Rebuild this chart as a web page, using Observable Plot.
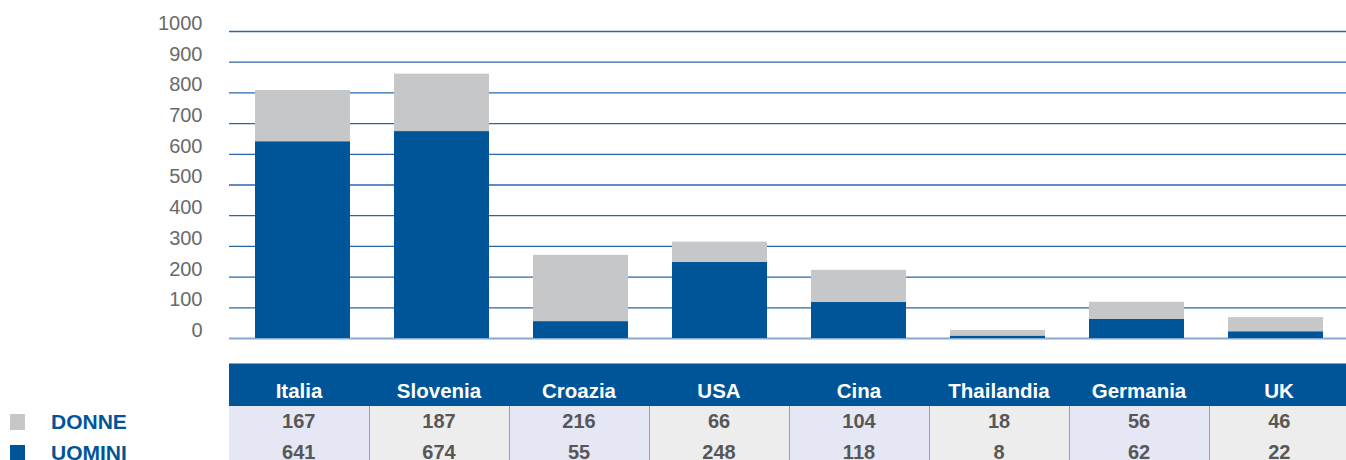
<!DOCTYPE html>
<html>
<head>
<meta charset="utf-8">
<script src="https://cdn.jsdelivr.net/npm/d3@7"></script>
<script src="https://cdn.jsdelivr.net/npm/@observablehq/plot@0.6"></script>
<style>
  html, body { margin: 0; padding: 0; background: #fff; }
  body { width: 1346px; height: 460px; overflow: hidden; position: relative; font-family: "Liberation Sans", Arial, Helvetica, sans-serif; }
  #chart { position: absolute; left: 0; top: 0; }
  #table { position: absolute; left: 229px; top: 363px; border-collapse: collapse; table-layout: fixed; width: 1120px; }
  #table th { background: #005598; color: #fff; font-weight: bold; font-size: 20.5px; height: 42px; padding: 0; vertical-align: bottom; padding-bottom: 3px; box-sizing: border-box; border-top: 1px solid #7fa6cf; }
  #table td { font-weight: bold; font-size: 20px; color: #575757; text-align: center; height: 31px; padding: 0; }
  #table td + td { border-left: 1.5px solid #7fa6cf; }
  .c0 { background: #e6e7f4; }
  .c1 { background: #ededed; }
  #legend { position: absolute; left: 10px; top: 406px; }
  .lg { display: flex; align-items: center; height: 31px; }
  .sw { width: 15px; height: 16px; margin-right: 26px; }
  .lt { color: #005598; font-weight: bold; font-size: 21px; }
</style>
</head>
<body>
<div id="chart"></div>
<table id="table"></table>
<div id="legend"></div>
<script>
const countries = ["Italia", "Slovenia", "Croazia", "USA", "Cina", "Thailandia", "Germania", "UK"];
const donne = [167, 187, 216, 66, 104, 18, 56, 46];
const uomini = [641, 674, 55, 248, 118, 8, 62, 22];
const series = ["UOMINI", "DONNE"];
const seriesColors = ["#005598", "#c6c7c9"];
const yTicks = [0, 100, 200, 300, 400, 500, 600, 700, 800, 900, 1000];

const data = [];
countries.forEach((c, i) => {
  data.push({country: c, serie: "UOMINI", value: uomini[i]});
  data.push({country: c, serie: "DONNE", value: donne[i]});
});

const plot = Plot.plot({
  width: 1346,
  height: 350,
  marginLeft: 229,
  marginRight: -3,
  marginTop: 31,
  marginBottom: 12,
  style: {fontFamily: "'Liberation Sans', Arial, sans-serif", background: "transparent"},
  x: {domain: countries, paddingInner: 0.32, paddingOuter: 0.17, axis: null},
  y: {domain: [0, 1000], axis: null},
  color: {domain: series, range: seriesColors},
  marks: [
    Plot.ruleY(yTicks.filter(d => d > 0), {stroke: "#2a66a6", strokeWidth: 1.3}),
    Plot.ruleY([0], {stroke: "#86a9cf", strokeWidth: 2}),
    Plot.barY(data, Plot.stackY({x: "country", y: "value", fill: "serie", order: series})),
    Plot.axisY(yTicks, {tickSize: 0, tickPadding: 27, fontSize: 20, fill: "#6a6a6a", dy: -8, tickFormat: d3.format("d"), label: null})
  ]
});
document.getElementById("chart").appendChild(plot);

// Table
const table = document.getElementById("table");
let html = "<tr>" + countries.map(c => `<th>${c}</th>`).join("") + "</tr>";
html += "<tr>" + donne.map((v, i) => `<td class='c${i % 2}'>${v}</td>`).join("") + "</tr>";
html += "<tr>" + uomini.map((v, i) => `<td class='c${i % 2}'>${v}</td>`).join("") + "</tr>";
table.innerHTML = html;

// Legend
const legend = document.getElementById("legend");
legend.innerHTML = ["DONNE", "UOMINI"].map(s => {
  const col = seriesColors[series.indexOf(s)];
  return `<div class="lg"><div class="sw" style="background:${col}"></div><span class="lt">${s}</span></div>`;
}).join("");
</script>
</body>
</html>
